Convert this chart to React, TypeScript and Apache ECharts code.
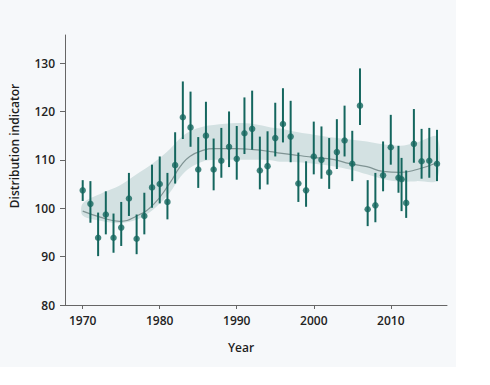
import React, { useEffect, useRef } from "react";
import * as echarts from "echarts";

const years = [
  1970, 1971, 1972, 1973, 1974, 1975, 1976, 1977, 1978, 1979,
  1980, 1981, 1982, 1983, 1984, 1985, 1986, 1987, 1988, 1989,
  1990, 1991, 1992, 1993, 1994, 1995, 1996, 1997, 1998, 1999,
  2000, 2001, 2002, 2003, 2004, 2005, 2006, 2007, 2008, 2009,
  2010, 2011, 2011.4, 2012, 2013, 2014, 2015, 2016,
];
const values = [
  103.7, 100.9, 93.9, 98.7, 93.9, 96.0, 102.0, 93.7, 98.4, 104.3,
  105.0, 101.3, 108.9, 118.8, 116.7, 108.0, 115.0, 108.0, 109.8, 112.7,
  110.2, 115.5, 116.4, 107.8, 108.7, 114.5, 117.4, 114.8, 105.1, 103.7,
  110.7, 110.0, 107.4, 111.6, 114.0, 109.2, 121.2, 99.8, 100.6, 106.8,
  112.6, 106.3, 106.0, 101.1, 113.3, 109.7, 109.8, 109.2,
];
const lows = [
  101.5, 97.0, 90.1, 94.6, 90.8, 92.2, 98.4, 90.5, 94.6, 100.1,
  101.0, 97.7, 105.1, 114.3, 112.7, 104.2, 110.0, 103.7, 106.3, 108.5,
  105.9, 111.2, 112.1, 103.9, 104.9, 110.7, 113.6, 109.5, 101.3, 100.3,
  107.0, 106.1, 104.0, 108.1, 110.7, 105.6, 117.2, 96.3, 97.1, 103.5,
  109.0, 103.2, 99.4, 98.0, 109.4, 106.1, 106.3, 105.6,
];
const highs = [
  105.8, 105.6, 99.1, 103.5, 98.9, 101.3, 107.3, 98.7, 103.2, 109.0,
  110.7, 107.3, 115.7, 126.2, 124.1, 114.7, 122.0, 114.4, 116.6, 120.0,
  117.0, 122.9, 124.3, 114.8, 115.9, 121.8, 124.8, 122.2, 111.5, 109.7,
  117.9, 116.9, 114.5, 118.4, 121.2, 116.0, 128.9, 105.8, 107.3, 113.8,
  119.3, 112.9, 110.4, 107.8, 120.5, 116.4, 116.6, 116.2,
];

const trendYears = [
  1970, 1972.6, 1974.8, 1977, 1979.2, 1981.3, 1982.7, 1983.9, 1985.7, 1987,
  1990, 1992.2, 1994.4, 1995.6, 1998, 2000, 2002.5, 2004.7, 2006.9, 2009,
  2011.2, 2013.4, 2016,
];
const trendValues = [
  99.4, 98.0, 97.3, 98.4, 100.8, 105.2, 108.7, 110.7, 112.0, 112.3,
  112.3, 112.1, 111.7, 111.4, 110.9, 110.5, 110.1, 109.2, 108.6, 107.6,
  107.4, 108.0, 109.4,
];
const bandUpper = [
  101.0, 103.2, 104.7, 107.0, 109.4, 112.2, 114.5, 115.9, 116.9, 117.2,
  117.6, 117.4, 116.7, 116.5, 115.7, 115.2, 114.6, 114.2, 113.8, 113.2,
  112.9, 113.6, 114.8,
];
const bandLower = [
  98.5, 97.3, 96.9, 97.6, 99.8, 103.2, 106.5, 108.3, 109.7, 110.0,
  110.0, 110.0, 109.9, 109.6, 109.5, 109.2, 108.7, 108.0, 107.0, 106.0,
  105.5, 105.6, 105.8,
];

const xTicks = [1970, 1980, 1990, 2000, 2010];
const yTicks = [80, 90, 100, 110, 120, 130];

const TEAL = "#14665e";
const FONT = "'Open Sans', 'Noto Sans', sans-serif";

export default function App() {
  const ref = useRef<HTMLDivElement>(null);

  useEffect(() => {
    document.body.style.margin = "0";
    if (!ref.current) return;
    const chart = echarts.init(ref.current, null, { renderer: "svg" });

    const pointData = years.map((y, i) => [y, values[i]]);
    const barData = years.map((y, i) => [y, lows[i], highs[i]]);
    const bandData = trendYears.map((y, i) => [y, bandLower[i], bandUpper[i]]);
    const trendData = trendYears.map((y, i) => [y, trendValues[i]]);

    chart.setOption({
      animation: false,
      backgroundColor: "#ffffff",
      graphic: [
        {
          type: "rect",
          z: -10,
          silent: true,
          shape: { x: 0, y: 0, width: 456, height: 367 },
          style: { fill: "#f6f8fa" },
        },
        {
          type: "text",
          x: 241,
          y: 347,
          style: {
            text: "Year",
            fill: "#1e1e1e",
            font: `600 12px ${FONT}`,
            textAlign: "center",
            textVerticalAlign: "middle",
          },
        },
        {
          type: "text",
          x: 14,
          y: 146,
          rotation: Math.PI / 2,
          style: {
            text: "Distribution indicator",
            fill: "#1e1e1e",
            font: `600 12px ${FONT}`,
            textAlign: "center",
            textVerticalAlign: "middle",
          },
        },
      ],
      grid: { left: 65, right: 43, top: 35, bottom: 80 },
      xAxis: {
        type: "value",
        min: 1967.7,
        max: 2017.3,
        splitLine: { show: false },
        axisLine: { lineStyle: { color: "#666", width: 1 } },
        axisTick: { show: true, length: 4, lineStyle: { color: "#666" }, customValues: xTicks },
        axisLabel: {
          customValues: xTicks,
          formatter: (v: number) => String(v),
          margin: 9,
          color: "#222",
          fontSize: 12,
          fontWeight: 600,
          fontFamily: FONT,
        },
      },
      yAxis: {
        type: "value",
        min: 80,
        max: 135.8,
        splitLine: { show: false },
        axisLine: { show: true, lineStyle: { color: "#666", width: 1 } },
        axisTick: { show: true, length: 5, lineStyle: { color: "#666" }, customValues: yTicks },
        axisLabel: {
          customValues: yTicks,
          formatter: (v: number) => String(v),
          margin: 10,
          color: "#222",
          fontSize: 12,
          fontWeight: 600,
          fontFamily: FONT,
        },
      },
      series: [
        {
          type: "custom",
          name: "band",
          data: [[bandData[0][0], bandData[0][1], bandData[0][2]]],
          encode: { x: 0, y: [1, 2] },
          silent: true,
          z: 1,
          renderItem: (params: any, api: any) => {
            const upper = bandData.map((d) => api.coord([d[0], d[2]]));
            const lower = bandData.map((d) => api.coord([d[0], d[1]])).reverse();
            return {
              type: "polygon",
              shape: { points: upper.concat(lower), smooth: 0.3 },
              style: { fill: "#d3e1e2", stroke: "none" },
            };
          },
        },
        {
          type: "line",
          name: "trend",
          data: trendData,
          smooth: true,
          symbol: "none",
          lineStyle: { color: "#7f9393", width: 1.2 },
          silent: true,
          z: 2,
        },
        {
          type: "custom",
          name: "errors",
          data: barData,
          encode: { x: 0, y: [1, 2] },
          z: 3,
          renderItem: (params: any, api: any) => {
            const x = api.value(0);
            const p1 = api.coord([x, api.value(1)]);
            const p2 = api.coord([x, api.value(2)]);
            return {
              type: "line",
              shape: { x1: p1[0], y1: p1[1], x2: p2[0], y2: p2[1] },
              style: { stroke: TEAL, lineWidth: 2 },
            };
          },
        },
        {
          type: "scatter",
          name: "points",
          data: pointData,
          symbol: "circle",
          symbolSize: 6.5,
          itemStyle: { color: TEAL },
          z: 4,
        },
      ],
    });

    return () => chart.dispose();
  }, []);

  return <div ref={ref} style={{ width: 490, height: 385 }} />;
}
